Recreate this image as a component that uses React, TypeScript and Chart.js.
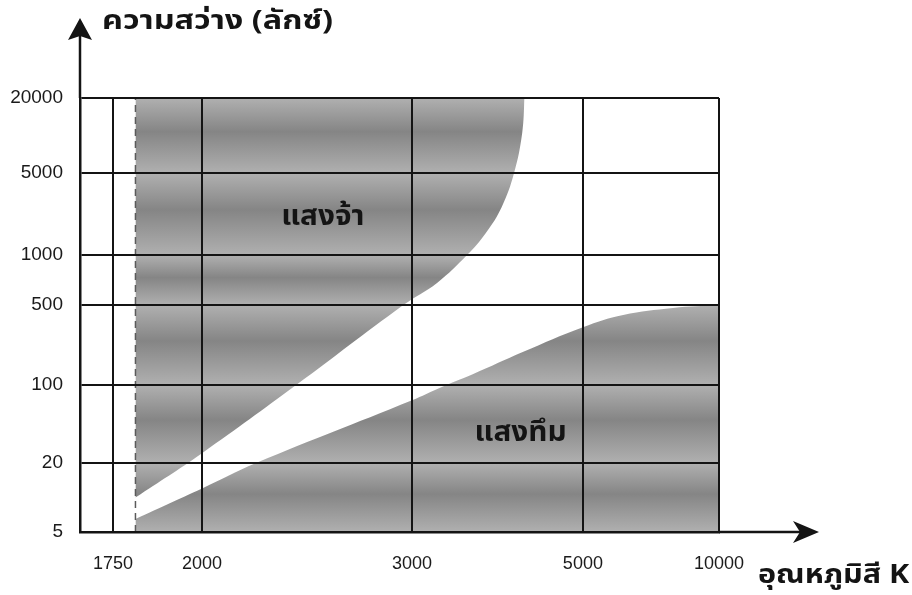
import React, { useEffect, useRef } from 'react';
import { Chart, registerables, LinearScale } from 'chart.js';

// ---------- data ----------
const xTickValues = [1750, 2000, 3000, 5000, 10000]; // colour temperature, K
const yTickValues = [5, 20, 100, 500, 1000, 5000, 20000]; // illuminance, lux

// upper ("bright") boundary curve
const brightK = [1810, 2000, 2400, 2950, 3233, 3536, 3741, 3923, 4070, 4170, 4200];
const brightLux = [10, 24.5, 100, 500, 680, 1000, 1545, 2573, 5000, 10450, 20000];

// lower ("dim") boundary curve
const dimK = [1810, 2000, 2220, 3000, 3257, 3597, 4177, 5000, 6138, 7911, 10000];
const dimLux = [6.5, 12, 20, 73, 94, 124, 194, 320, 409, 471, 500];

// dashed limit line
const limitK = [1810, 1810];
const limitLux = [5, 20000];

const regionNames = ['แสงจ้า', 'แสงทึม'];
const regionK = [2525, 4150];
const regionLux = [2000, 35];

const yTitle = 'ความสว่าง (ลักซ์)';
const xTitle = 'อุณหภูมิสี K';

// ---------- schematic axis layout (fraction of axis length at each tick) ----------
const xTickStops = [0.0516, 0.191, 0.5196, 0.787, 1];
const yTickStops = [0, 0.159, 0.339, 0.523, 0.638, 0.827, 1];

type AxisMap = { values: number[]; stops: number[] };
const AXES: Record<string, AxisMap> = {
  x: { values: xTickValues, stops: xTickStops },
  y: { values: yTickValues, stops: yTickStops },
};

function toFrac(m: AxisMap, v: number): number {
  if (!(v > 0)) return 0;
  const { values, stops } = m;
  let i = 0;
  while (i < values.length - 2 && v > values[i + 1]) i++;
  const a = Math.log(values[i]);
  const b = Math.log(values[i + 1]);
  const t = (Math.log(v) - a) / (b - a);
  return stops[i] + t * (stops[i + 1] - stops[i]);
}

function fromFrac(m: AxisMap, f: number): number {
  const { values, stops } = m;
  let i = 0;
  while (i < stops.length - 2 && f > stops[i + 1]) i++;
  const t = (f - stops[i]) / (stops[i + 1] - stops[i]);
  const a = Math.log(values[i]);
  const b = Math.log(values[i + 1]);
  return Math.exp(a + t * (b - a));
}

class StopScale extends LinearScale {
  static id = 'stops';
  static defaults = {};
  axisMap(): AxisMap {
    return AXES[(this as any).axis] || AXES.x;
  }
  determineDataLimits() {
    const m = this.axisMap();
    (this as any).min = fromFrac(m, 0);
    (this as any).max = fromFrac(m, 1);
  }
  buildTicks() {
    return this.axisMap().values.map((v) => ({ value: v }));
  }
  getPixelForValue(value: number) {
    if (value === null || value === undefined) return NaN;
    return this.getPixelForDecimal(toFrac(this.axisMap(), value));
  }
  getValueForPixel(pixel: number) {
    return fromFrac(this.axisMap(), this.getDecimalForPixel(pixel));
  }
}

Chart.register(...registerables, StopScale as any);

const INK = '#141414';
const LIGHT = '#b0b0b0';
const DARK = '#858585';
const NUM_FONT = "'Liberation Sans', Arial, sans-serif";
const THAI_FONT = "'Noto Sans Thai', 'Noto Sans Thai UI', Loma, Garuda, 'Tlwg Typo', 'Noto Sans', 'DejaVu Sans', sans-serif";

function shade(chart: any) {
  const area = chart.chartArea;
  const y = chart.scales && chart.scales.y;
  if (!area || !y) return '#969696';
  const h = area.bottom - area.top;
  const g = chart.ctx.createLinearGradient(0, area.top, 0, area.bottom);
  const fr = yTickValues
    .map((v) => (y.getPixelForValue(v) - area.top) / h)
    .map((f) => Math.min(1, Math.max(0, f)))
    .sort((a, b) => a - b);
  for (let i = 0; i < fr.length - 1; i++) {
    const a = fr[i];
    const b = fr[i + 1];
    g.addColorStop(a, LIGHT);
    g.addColorStop(a + (b - a) * 0.45, DARK);
    g.addColorStop(b, LIGHT);
  }
  return g;
}

function stretchedText(ctx: CanvasRenderingContext2D, text: string, x: number, y: number, sx: number) {
  ctx.save();
  ctx.translate(x, y);
  ctx.scale(sx, 1);
  ctx.fillText(text, 0, 0);
  ctx.restore();
}

const decorPlugin = {
  id: 'decor',
  afterDraw(chart: any) {
    const { ctx, chartArea: a, scales } = chart;
    ctx.save();
    ctx.strokeStyle = INK;
    ctx.fillStyle = INK;
    ctx.lineWidth = 2.5;
    // y axis extension + arrow
    ctx.beginPath();
    ctx.moveTo(a.left, a.top);
    ctx.lineTo(a.left, a.top - 62);
    ctx.stroke();
    ctx.beginPath();
    ctx.moveTo(a.left, a.top - 80);
    ctx.lineTo(a.left - 12, a.top - 58);
    ctx.lineTo(a.left, a.top - 62);
    ctx.lineTo(a.left + 12, a.top - 58);
    ctx.closePath();
    ctx.fill();
    // x axis extension + arrow
    ctx.beginPath();
    ctx.moveTo(a.right, a.bottom);
    ctx.lineTo(a.right + 85, a.bottom);
    ctx.stroke();
    ctx.beginPath();
    ctx.moveTo(a.right + 100, a.bottom);
    ctx.lineTo(a.right + 74, a.bottom - 11);
    ctx.lineTo(a.right + 81, a.bottom);
    ctx.lineTo(a.right + 74, a.bottom + 11);
    ctx.closePath();
    ctx.fill();
    // axis titles
    ctx.textBaseline = 'middle';
    ctx.textAlign = 'left';
    ctx.font = `bold 27px ${THAI_FONT}`;
    stretchedText(ctx, yTitle, a.left + 22, a.top - 74, 1.2);
    stretchedText(ctx, xTitle, a.right + 39, a.bottom + 46, 1.13);
    // region labels
    ctx.textAlign = 'center';
    ctx.font = `bold 28px ${THAI_FONT}`;
    regionNames.forEach((name, i) => {
      const px = scales.x.getPixelForValue(regionK[i]);
      const py = scales.y.getPixelForValue(regionLux[i]);
      stretchedText(ctx, name, px, py, 1.06);
    });
    ctx.restore();
  },
};

export default function App() {
  const ref = useRef<HTMLCanvasElement>(null);
  useEffect(() => {
    if (!ref.current) return;
    const chart = new Chart(ref.current, {
      type: 'line',
      data: {
        datasets: [
          {
            label: 'limit',
            data: limitK.map((k, i) => ({ x: k, y: limitLux[i] })),
            borderColor: '#5a5a5a',
            borderWidth: 1.5,
            borderDash: [7, 5],
            pointRadius: 0,
            fill: false,
          },
          {
            label: regionNames[0],
            data: brightK.map((k, i) => ({ x: k, y: brightLux[i] })),
            borderWidth: 0,
            borderColor: 'rgba(0,0,0,0)',
            backgroundColor: (c: any) => shade(c.chart),
            pointRadius: 0,
            fill: 'end',
            tension: 0.4,
          },
          {
            label: regionNames[1],
            data: dimK.map((k, i) => ({ x: k, y: dimLux[i] })),
            borderWidth: 0,
            borderColor: 'rgba(0,0,0,0)',
            backgroundColor: (c: any) => shade(c.chart),
            pointRadius: 0,
            fill: 'start',
            tension: 0.4,
          },
        ],
      },
      options: {
        animation: false,
        responsive: true,
        maintainAspectRatio: false,
        layout: { padding: { left: 0, top: 98, right: 193, bottom: 0 } },
        plugins: {
          legend: { display: false },
          tooltip: { enabled: false },
        },
        scales: {
          x: {
            type: 'stops' as any,
            position: 'bottom',
            afterFit: (s: any) => {
              s.height = 63;
            },
            grid: { color: INK, lineWidth: 2, drawTicks: false, z: 1 },
            border: { display: true, color: INK, width: 2.5, z: 2 },
            ticks: {
              autoSkip: false,
              maxRotation: 0,
              padding: 21,
              color: '#1a1a1a',
              font: { family: NUM_FONT, size: 18 },
              callback: (v: any) => String(v),
            },
          } as any,
          y: {
            type: 'stops' as any,
            position: 'left',
            afterFit: (s: any) => {
              s.width = 80;
            },
            grid: { color: INK, lineWidth: 2, drawTicks: false, z: 1 },
            border: { display: true, color: INK, width: 2.5, z: 2 },
            ticks: {
              autoSkip: false,
              padding: 17,
              color: '#1a1a1a',
              font: { family: NUM_FONT, size: 19 },
              callback: (v: any) => String(v),
            },
          } as any,
        },
      },
      plugins: [decorPlugin],
    } as any);
    return () => chart.destroy();
  }, []);
  return (
    <div style={{ position: 'absolute', left: 0, top: 0, width: 912, height: 595, background: '#ffffff' }}>
      <canvas ref={ref} />
    </div>
  );
}
